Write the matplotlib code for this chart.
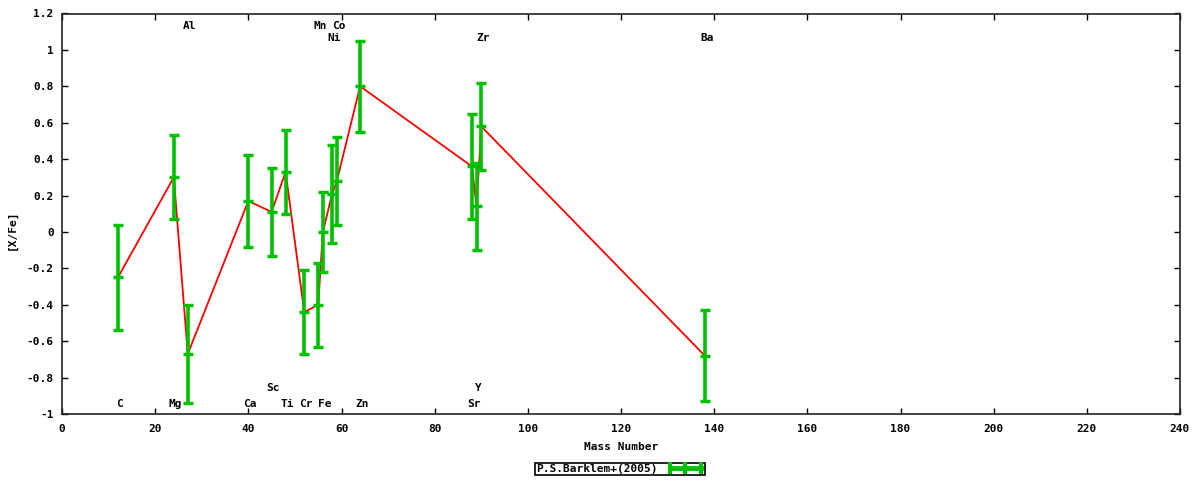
import numpy as np
import matplotlib
matplotlib.use("Agg")
import matplotlib.pyplot as plt
from matplotlib.lines import Line2D
from matplotlib.legend_handler import HandlerLine2D
from matplotlib.ticker import FuncFormatter, MultipleLocator

# [X/Fe] abundances (P.S.Barklem+ 2005)
elements = ["C", "Mg", "Al", "Ca", "Sc", "Ti", "Cr", "Mn", "Fe", "Ni", "Co", "Zn", "Sr", "Y", "Zr", "Ba"]
mass = [12, 24, 27, 40, 45, 48, 52, 55, 56, 58, 59, 64, 88, 89, 90, 138]
xfe = [-0.25, 0.30, -0.67, 0.17, 0.11, 0.33, -0.44, -0.40, 0.00, 0.21, 0.28, 0.80, 0.36, 0.14, 0.58, -0.68]
err = [0.29, 0.23, 0.27, 0.25, 0.24, 0.23, 0.23, 0.23, 0.22, 0.27, 0.24, 0.25, 0.29, 0.24, 0.24, 0.25]
series_name = "P.S.Barklem+(2005)"

# where the element names sit (layout only)
row_y = {"top": 1.134, "top2": 1.068, "bot2": -0.857, "bot": -0.945}
label_row = {"Al": "top", "Mn": "top", "Co": "top",
             "Ni": "top2", "Zr": "top2", "Ba": "top2",
             "Sc": "bot2", "Y": "bot2"}

plt.rcParams["font.family"] = ["DejaVu Sans Mono"]
plt.rcParams["font.weight"] = "bold"
plt.rcParams["font.size"] = 8

green = "#00c000"

fig = plt.figure(figsize=(12, 4.8), dpi=100)
ax = fig.add_axes([62/1200, 66/480, 1118/1200, 400.5/480])

ax.plot(mass, xfe, color="red", lw=1.3, zorder=2)
ax.errorbar(mass, xfe, yerr=err, fmt="_", color=green, ms=7, mew=2.5,
            elinewidth=2.6, capsize=3.5, capthick=2.5, zorder=3)

for el, m in zip(elements, mass):
    y = row_y[label_row.get(el, "bot")]
    ax.text(m + 0.4, y, el, ha="center", va="center", fontsize=8, fontweight="bold")

ax.set_xlim(0, 240)
ax.set_ylim(-1, 1.2)
ax.xaxis.set_major_locator(MultipleLocator(20))
ax.yaxis.set_major_locator(MultipleLocator(0.2))

def fmt(v, pos):
    v = round(v, 2)
    if v == 0:
        return "0"
    return "%g" % v

ax.yaxis.set_major_formatter(FuncFormatter(fmt))
ax.tick_params(direction="in", length=4, width=1, top=True, right=True, labelsize=8)
ax.tick_params(axis="x", pad=7)
ax.tick_params(axis="y", pad=6)
for sp in ax.spines.values():
    sp.set_linewidth(1.2)
    sp.set_color("#222222")

fig.text(621/1200, 1 - 447/480, "Mass Number", ha="center", va="center", fontsize=8, fontweight="bold")
fig.text(12/1200, 1 - 230/480, "[X/Fe]", ha="center", va="center", rotation=90, fontsize=8, fontweight="bold")

handle = Line2D([], [], color=green, lw=3.5, marker="|", ms=9, mew=3)
leg = fig.legend([handle], [series_name], loc="center", bbox_to_anchor=(620/1200, 1 - 469/480),
                 markerfirst=False, handlelength=3.4, handletextpad=0.8, borderpad=0.1,
                 borderaxespad=0, fancybox=False, framealpha=1, edgecolor="black",
                 handler_map={handle: HandlerLine2D(numpoints=3)})
leg.get_frame().set_linewidth(1.2)

fig.savefig("out.png", dpi=100)
